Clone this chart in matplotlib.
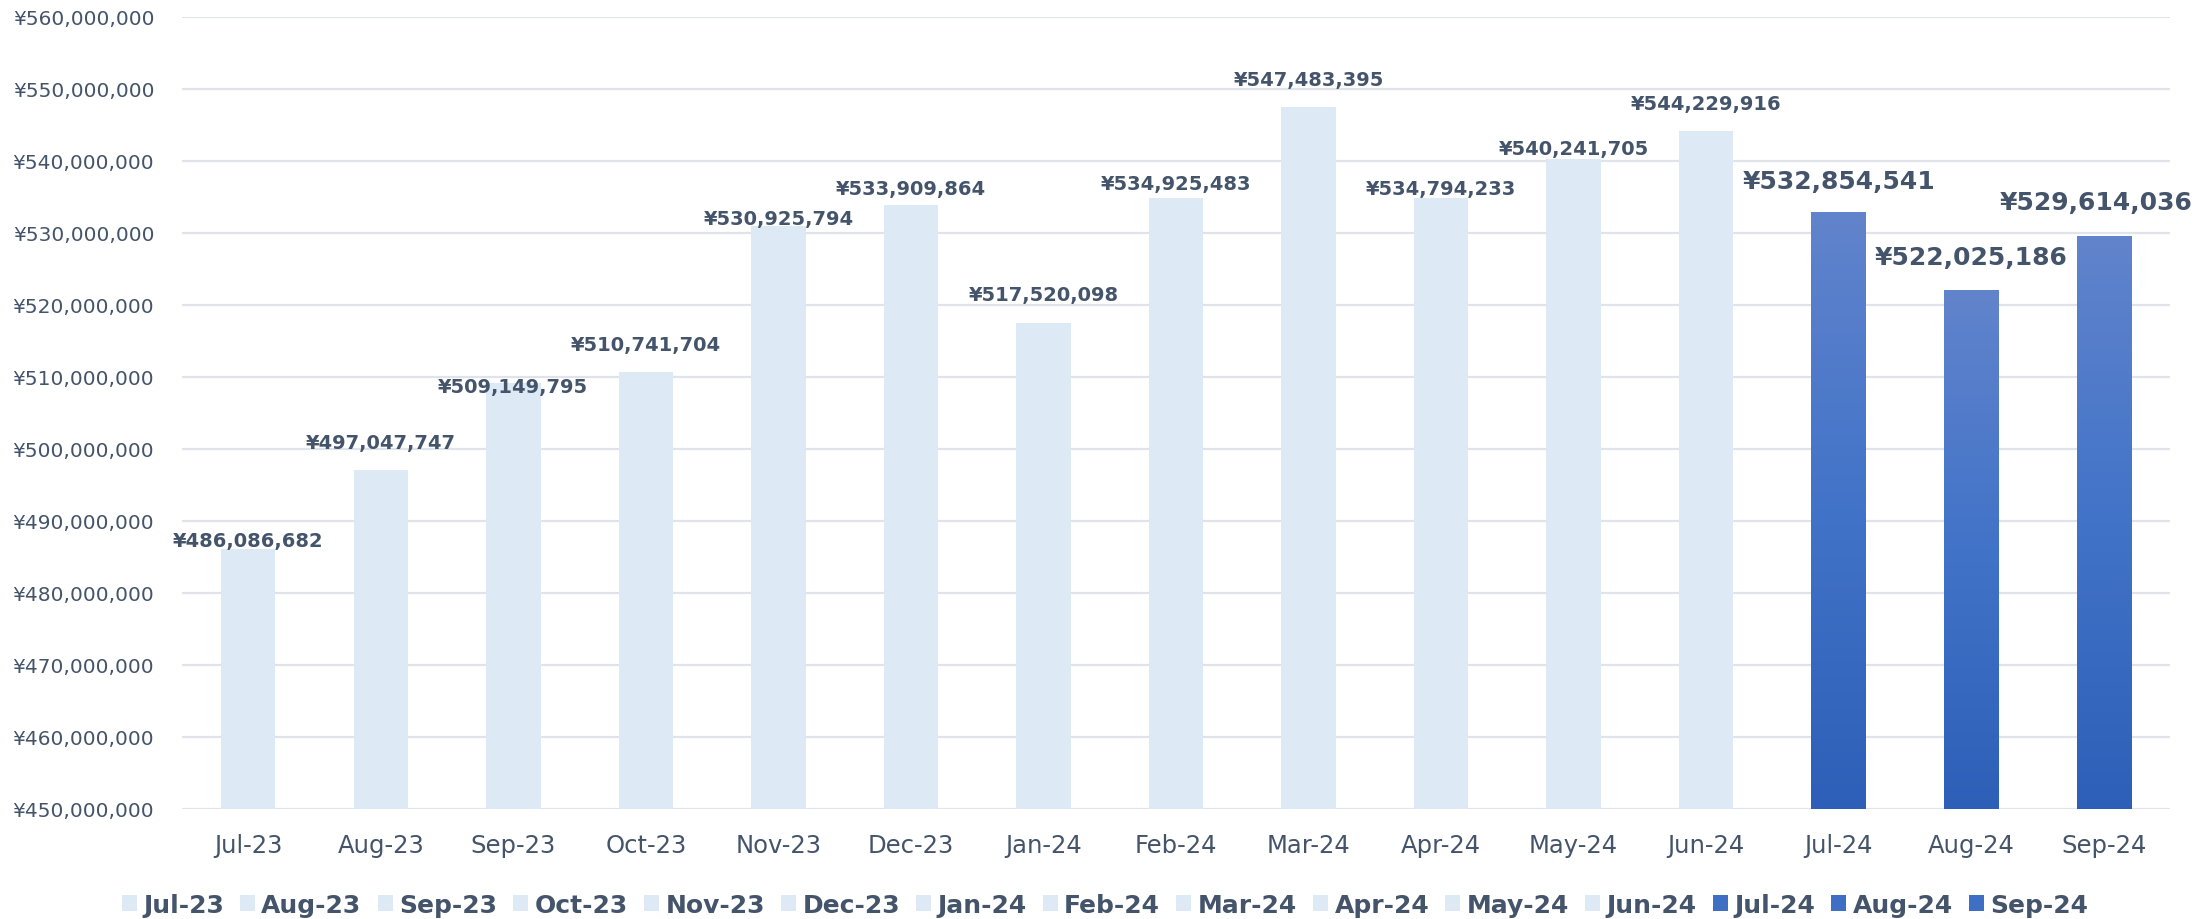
import matplotlib
matplotlib.use("Agg")
import matplotlib.pyplot as plt
from matplotlib.colors import LinearSegmentedColormap
from matplotlib.patches import Patch
from matplotlib.ticker import FuncFormatter, MultipleLocator
import numpy as np

months = ["Jul-23", "Aug-23", "Sep-23", "Oct-23", "Nov-23", "Dec-23",
          "Jan-24", "Feb-24", "Mar-24", "Apr-24", "May-24", "Jun-24",
          "Jul-24", "Aug-24", "Sep-24"]
sales = [486086682, 497047747, 509149795, 510741704, 530925794, 533909864,
         517520098, 534925483, 547483395, 534794233, 540241705, 544229916,
         532854541, 522025186, 529614036]
highlight = [False] * 12 + [True] * 3

# label placement (pixels above the bar top, horizontal nudge)
label_dy = [9, 28, -3, 27, 8, 16, 28, 14, 28, 10, 11, 27, 31, 33, 34]
label_dx = [0] * 14 + [-8]

TEXT = "#44546A"
LIGHT = "#DDE9F5"
BLUE = "#3F6FC5"
GRID = "#E0E4EA"
YMIN, YMAX = 450000000, 560000000
WIDTH = 0.41

blue_grad = LinearSegmentedColormap.from_list(
    "bluegrad", ["#2E5FB8", "#4173C8", "#6284CC"])


def draw_bars(ax):
    for idx, (value, hi) in enumerate(zip(sales, highlight)):
        container = ax.bar(idx, value - YMIN, bottom=YMIN, width=WIDTH,
                           color=LIGHT, linewidth=0, zorder=2)
        bar = container.patches[0]
        if hi:
            # gradient fill, a bit larger than the bar and clipped to it
            grad = np.linspace(0, 1, 256).reshape(-1, 1)
            pad = (value - YMIN) * 0.01
            img = ax.imshow(grad, cmap=blue_grad, origin="lower",
                            aspect="auto", zorder=3,
                            extent=(idx - WIDTH, idx + WIDTH,
                                    YMIN - pad, value + pad))
            img.set_clip_path(bar)
            bar.set_facecolor("none")


def draw_labels(ax):
    for idx, value in enumerate(sales):
        size = 18 if highlight[idx] else 14
        ax.annotate("¥{:,.0f}".format(value), xy=(idx, value),
                    xytext=(label_dx[idx], label_dy[idx]),
                    textcoords="offset pixels", ha="center", va="center",
                    fontsize=size, fontweight="bold", color=TEXT, zorder=5)


fig = plt.figure(figsize=(22.01, 9.2), dpi=100)
ax = fig.add_axes([182 / 2201, 110 / 920, 1988 / 2201, 792 / 920])

draw_bars(ax)
draw_labels(ax)

ax.set_xlim(-0.5, len(months) - 0.5)
ax.set_ylim(YMIN, YMAX)
ax.set_xticks(range(len(months)))
ax.set_xticklabels(months)
ax.yaxis.set_major_locator(MultipleLocator(10000000))
ax.yaxis.set_major_formatter(FuncFormatter(lambda v, _: "¥{:,.0f}".format(v)))

ax.tick_params(axis="x", length=0, pad=17, labelsize=17.5, colors=TEXT)
ax.tick_params(axis="y", length=0, pad=20, labelsize=14.5, colors=TEXT)
ax.grid(True, axis="y", color=GRID, lw=1.6, zorder=0)
ax.set_axisbelow(True)
for spine in ax.spines.values():
    spine.set_visible(False)

handles = [Patch(facecolor=BLUE if hi else LIGHT, linewidth=0)
           for hi in highlight]
fig.legend(handles, months, loc="center", bbox_to_anchor=(1105 / 2201, 14 / 920),
           ncol=len(months), frameon=False, handlelength=0.6,
           handleheight=0.6, handletextpad=0.25, columnspacing=0.65,
           prop={"weight": "bold", "size": 18}, labelcolor=TEXT)

fig.savefig("out.png", dpi=100)
